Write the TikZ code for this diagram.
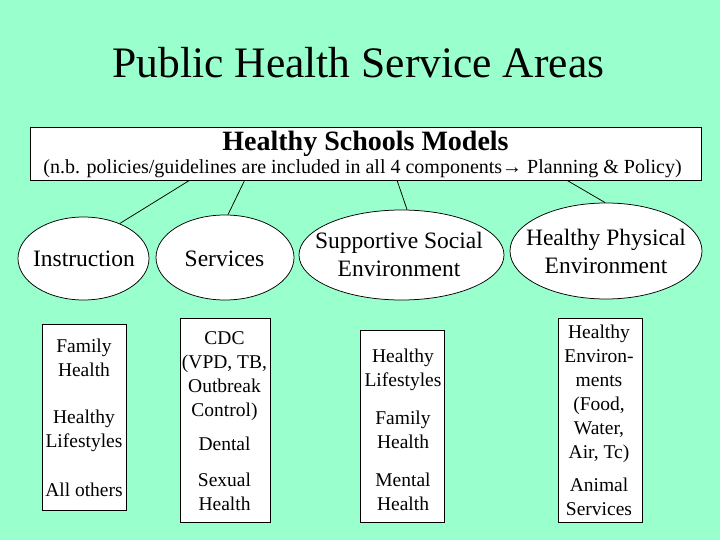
\documentclass[tikz,border=0pt]{standalone}
\usepackage{fontspec}
\setmainfont{Liberation Serif}
\usetikzlibrary{calc,shapes.geometric}
\definecolor{slidegreen}{RGB}{153,255,204}
\newcommand{\fsz}[2]{\fontsize{#1bp}{#2bp}\selectfont}

\begin{document}
\begin{tikzpicture}[x=1bp, y=-1bp, line width=0.75bp,
		areaoval/.style={ellipse, draw, fill=white, inner sep=0pt},
		ovaltext/.style={anchor=base, align=center, font=\fsz{23.5}{28.5}},
		itemtext/.style={anchor=base, align=center, font=\fsz{19.5}{24}}]
			%%%%% START %%%%%
			
			\fill[slidegreen] (0, 0) rectangle (720, 540);
			
			\node[anchor=base, font=\fsz{43.5}{50}] (title) at (358.5, 78) {Public Health Service Areas};
			
			\node[draw, fill=white, inner sep=0pt, minimum width=671bp, minimum height=53bp] (hsm) at (365.5, 153.5) {};
			\node[anchor=base, font=\fsz{28}{32}\bfseries] (hsmtitle) at (365.5, 151) {Healthy Schools Models};
			\node[anchor=base, font=\fsz{20}{24}] (hsmnote) at (362.5, 173.3) {(n.b. policies/guidelines are included in all 4 components→ Planning \& Policy)};
			
			\node[areaoval, minimum width=131bp, minimum height=83bp] (instr) at (83.5, 258.5) {};
			\node[areaoval, minimum width=138bp, minimum height=85bp] (serv) at (225, 257.5) {};
			\node[areaoval, minimum width=205bp, minimum height=90bp] (social) at (401.5, 255) {};
			\node[areaoval, minimum width=192bp, minimum height=96bp] (phys) at (606, 251) {};
			
			\node[ovaltext] (instrtxt) at (84, 266.7) {Instruction};
			\node[ovaltext] (servtxt) at (224.5, 266.7) {Services};
			\node[ovaltext] (socialtxt) at (399, 276.7) {Supportive Social\\Environment};
			\node[ovaltext] (phystxt) at (606, 274) {Healthy Physical\\Environment};
			
			\draw ($(hsm.south west)!0.238!(hsm.south east)$) -- (instr.44);
			\draw ($(hsm.south west)!0.320!(hsm.south east)$) -- (serv.86);
			\draw ($(hsm.south west)!0.547!(hsm.south east)$) -- (social.83);
			\draw ($(hsm.south west)!0.800!(hsm.south east)$) -- (phys.91);
			
			\draw[fill=white] (42.3, 324.3) rectangle (126.7, 510.7);
			\node[itemtext] (famone) at (84, 376) {Family\\Health};
			\node[itemtext] (lifeone) at (84, 447.5) {Healthy\\Lifestyles};
			\node[itemtext] (others) at (84, 496) {All others};
			
			\draw[fill=white] (180.3, 318.3) rectangle (270.3, 522.7);
			\node[itemtext] (cdc) at (224.5, 416.7) {CDC\\(VPD, TB,\\Outbreak\\Control)};
			\node[itemtext] (dental) at (224.5, 450.7) {Dental};
			\node[itemtext] (sexual) at (224.5, 510) {Sexual\\Health};
			
			\draw[fill=white] (360.7, 330) rectangle (444.3, 522.7);
			\node[itemtext] (lifethree) at (403, 386) {Healthy\\Lifestyles};
			\node[itemtext] (famthree) at (403, 448.3) {Family\\Health};
			\node[itemtext] (mental) at (403, 510.7) {Mental\\Health};
			
			\draw[fill=white] (558.3, 318.3) rectangle (642.7, 522.7);
			\node[itemtext] (envs) at (599, 458.3) {Healthy\\Environ-\\ments\\(Food,\\Water,\\Air, Tc)};
			\node[itemtext] (animal) at (599, 515) {Animal\\Services};
			
			%%%%% END %%%%%
\end{tikzpicture}
\end{document}
